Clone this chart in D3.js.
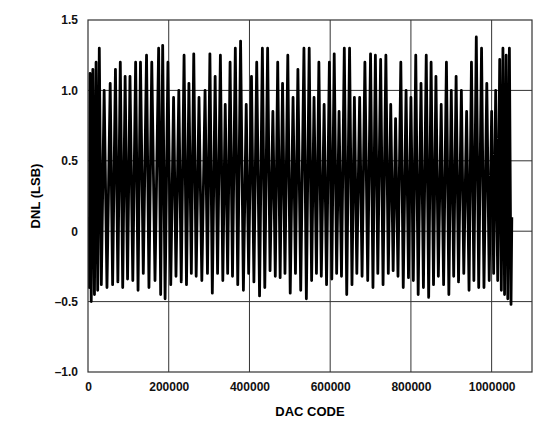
<!DOCTYPE html>
<html><head><meta charset="utf-8">
<script src="https://cdn.jsdelivr.net/npm/d3@7"></script>
<style>body{margin:0;background:#fff}</style></head>
<body><svg id="c" width="540" height="427"></svg>
<script>
const xTicks=[0,200000,400000,600000,800000,1000000];
const xTickLabels=["0","200000","400000","600000","800000","1000000"];
const yTicks=[-1.0,-0.5,0,0.5,1.0,1.5];
const yTickLabels=["–1.0","–0.5","0","0.5","1.0","1.5"];
// DNL trace: alternating crest / trough readings [code, LSB]
const dnlCodes=[0,3000,5000,8000,12000,16000,20000,24000,28000,33000,40000,47000,55000,61000,68000,74000,80000,86000,92000,98000,104000,111000,118000,124000,130000,137000,145000,151000,158000,166000,175000,180000,185000,191000,198000,205000,212000,218000,225000,231000,238000,244000,250000,256000,262000,268000,275000,282000,290000,296000,302000,308000,315000,321000,328000,334000,340000,346000,352000,358000,365000,371000,378000,385000,392000,398000,405000,411000,418000,425000,432000,438000,445000,451000,458000,464000,470000,476000,482000,488000,495000,501000,508000,514000,520000,527000,535000,541000,548000,554000,560000,566000,572000,578000,585000,591000,598000,604000,610000,616000,622000,628000,635000,641000,648000,654000,660000,666000,673000,679000,686000,693000,700000,706000,712000,718000,725000,731000,738000,744000,750000,756000,762000,768000,775000,781000,788000,794000,800000,806000,812000,818000,825000,831000,838000,844000,850000,856000,862000,868000,875000,881000,888000,894000,900000,906000,912000,918000,925000,931000,938000,944000,950000,956000,962000,968000,975000,981000,988000,994000,1000000,1005000,1010000,1015000,1020000,1024000,1028000,1032000,1036000,1040000,1044000,1048000,1050000];
const dnlValues=[0.1,-0.4,1.12,-0.5,1.15,-0.45,1.2,-0.42,1.3,-0.38,1.0,-0.4,1.05,-0.38,1.15,-0.36,1.2,-0.4,1.1,-0.34,1.1,-0.35,1.2,-0.42,1.2,-0.3,1.25,-0.4,1.2,-0.35,1.3,-0.45,1.32,-0.48,1.2,-0.38,0.95,-0.32,1.0,-0.36,1.25,-0.38,1.05,-0.3,1.26,-0.32,0.95,-0.35,1.0,-0.3,1.26,-0.44,1.1,-0.3,1.25,-0.35,0.9,-0.3,1.2,-0.32,1.3,-0.38,1.35,-0.42,0.9,-0.3,1.1,-0.36,1.2,-0.46,1.3,-0.4,1.3,-0.28,0.85,-0.32,1.2,-0.33,1.05,-0.3,1.25,-0.44,0.95,-0.3,1.15,-0.42,1.3,-0.48,1.3,-0.35,0.95,-0.3,1.2,-0.32,0.9,-0.38,1.2,-0.34,1.26,-0.3,0.85,-0.32,1.3,-0.45,1.3,-0.38,0.95,-0.3,0.95,-0.32,1.2,-0.35,1.26,-0.4,1.25,-0.3,1.22,-0.38,1.25,-0.3,0.9,-0.28,0.8,-0.32,1.2,-0.4,1.0,-0.33,0.95,-0.35,1.25,-0.45,1.05,-0.4,1.25,-0.47,1.2,-0.38,1.1,-0.32,0.9,-0.38,1.2,-0.45,1.0,-0.32,1.1,-0.36,1.0,-0.3,0.85,-0.42,1.2,-0.35,1.38,-0.4,1.3,-0.4,1.05,-0.35,0.85,-0.3,1.0,-0.35,1.22,-0.42,1.3,-0.45,1.25,-0.48,1.3,-0.52,0.1];
const svg=d3.select("#c");
const L=88,R=532,T=20,B=372;
const x=d3.scaleLinear().domain([0,1100000]).range([L,R]);
const y=d3.scaleLinear().domain([-1,1.5]).range([B,T]);
const g=svg.append("g");
g.selectAll(".gx").data(xTicks.slice(1)).enter().append("line")
 .attr("x1",d=>x(d)).attr("x2",d=>x(d)).attr("y1",T).attr("y2",B).attr("stroke","#333").attr("stroke-width",1);
g.selectAll(".gy").data(yTicks.slice(1,-1)).enter().append("line")
 .attr("y1",d=>y(d)).attr("y2",d=>y(d)).attr("x1",L).attr("x2",R).attr("stroke","#333").attr("stroke-width",1);
svg.append("clipPath").attr("id","cp").append("rect").attr("x",L).attr("y",T).attr("width",R-L).attr("height",B-T);
svg.append("path").datum(dnlCodes.map((c,i)=>[c,dnlValues[i]]))
 .attr("clip-path","url(#cp)")
 .attr("d",d3.line().x(d=>x(d[0])).y(d=>y(d[1])))
 .attr("fill","none").attr("stroke","#000").attr("stroke-width",2.8).attr("stroke-linejoin","round");
svg.append("rect").attr("x",L).attr("y",T).attr("width",R-L).attr("height",B-T).attr("fill","none").attr("stroke","#333").attr("stroke-width",1.2);
const font="'Liberation Sans',Arial,sans-serif";
svg.append("g").attr("transform",`translate(0,${B})`)
 .call(d3.axisBottom(x).tickValues(xTicks).tickFormat((d,i)=>xTickLabels[i]).tickSize(0).tickPadding(10))
 .call(a=>a.select(".domain").remove())
 .selectAll("text").attr("font-family",font).attr("font-weight","bold").attr("font-size",12).attr("fill","#111");
svg.append("g").attr("transform",`translate(${L},0)`)
 .call(d3.axisLeft(y).tickValues(yTicks).tickFormat((d,i)=>yTickLabels[i]).tickSize(0).tickPadding(10))
 .call(a=>a.select(".domain").remove())
 .selectAll("text").attr("font-family",font).attr("font-weight","bold").attr("font-size",12).attr("fill","#111");
svg.append("text").attr("x",(L+R)/2).attr("y",416).attr("text-anchor","middle")
 .attr("font-family",font).attr("font-weight","bold").attr("font-size",13).text("DAC CODE");
svg.append("text").attr("transform",`translate(40,${(T+B)/2}) rotate(-90)`).attr("text-anchor","middle")
 .attr("font-family",font).attr("font-weight","bold").attr("font-size",13).text("DNL (LSB)");
</script></body></html>
